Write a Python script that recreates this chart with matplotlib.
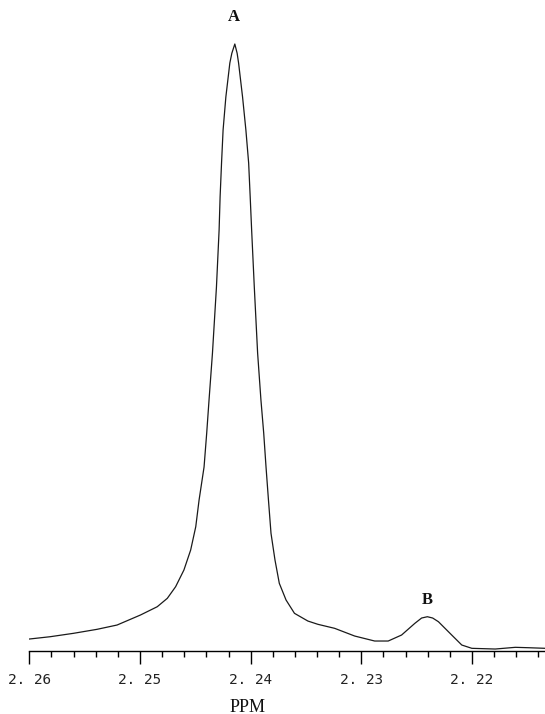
import matplotlib

matplotlib.use("Agg")
import matplotlib.pyplot as plt
from matplotlib.ticker import FixedLocator, FuncFormatter

# chemical shift (ppm) and intensity
ppm = [
    2.26000, 2.25812, 2.25601, 2.25388, 2.25207, 2.24996, 2.24844, 2.24753,
    2.24678, 2.24603, 2.24542, 2.24496, 2.24466, 2.24421, 2.24397, 2.24376,
    2.24345, 2.24309, 2.24285, 2.24276, 2.24263, 2.24249, 2.24224, 2.24188,
    2.24170, 2.24143, 2.24122, 2.24109, 2.24073, 2.24043, 2.24018, 2.24004,
    2.23991, 2.23967, 2.23937, 2.23907, 2.23882, 2.23861, 2.23839, 2.23816,
    2.23780, 2.23741, 2.23680, 2.23604, 2.23483, 2.23392, 2.23241, 2.23060,
    2.22879, 2.22757, 2.22636, 2.22516, 2.22455, 2.22403, 2.22355, 2.22303,
    2.22183, 2.22092, 2.22001, 2.21790, 2.21608, 2.21487, 2.21336,
]
intensity = [
    12, 14.3, 17.7, 21.7, 26, 36, 44.3, 52.7,
    64.3, 81, 101, 124.3, 151, 184, 218, 251,
    298, 364, 421, 454, 488, 521, 554, 588,
    597.7, 607, 597.7, 588, 554, 521, 488, 454,
    421, 364, 298, 251, 218, 184, 151, 117.7,
    91, 67.7, 51, 37.7, 30, 26.7, 22.7, 15,
    10, 10, 16, 27.7, 33, 34.3, 33, 29.3,
    16, 6, 2.7, 2, 3.7, 3.3, 2.7,
]

major_ticks = [2.26, 2.25, 2.24, 2.23, 2.22]
minor_ticks = [2.258, 2.256, 2.254, 2.252, 2.248, 2.246, 2.244, 2.242,
               2.238, 2.236, 2.234, 2.232, 2.228, 2.226, 2.224, 2.222,
               2.218, 2.216, 2.214]

peak_labels = ["A", "B"]
peak_ppm = [2.2415, 2.2240]
peak_label_y = [634, 51]

fig = plt.figure(figsize=(5.45, 7.14), dpi=100)
ax = fig.add_axes([0.0538, 0.0882, 0.9462, 0.9118])

ax.plot(ppm, intensity, color="#1a1a1a", lw=0.9)

ax.set_xlim(2.26, 2.2134)
ax.set_ylim(0, 651)

for side in ["top", "left", "right"]:
    ax.spines[side].set_visible(False)
ax.spines["bottom"].set_linewidth(1.0)
ax.set_yticks([])

ax.xaxis.set_major_locator(FixedLocator(major_ticks))
ax.xaxis.set_minor_locator(FixedLocator(minor_ticks))
ax.xaxis.set_major_formatter(FuncFormatter(lambda v, p: f"{v:.2f}".replace(".", ". ")))
ax.tick_params(axis="x", which="major", direction="out", length=9.5, width=1.0, pad=6.5,
               labelsize=10.4, labelcolor="#222222")
ax.tick_params(axis="x", which="minor", direction="out", length=4.5, width=1.0)
for lbl in ax.get_xticklabels():
    lbl.set_family("DejaVu Sans Mono")

for name, x, y in zip(peak_labels, peak_ppm, peak_label_y):
    ax.text(x, y, name, ha="center", va="center", fontsize=12, fontweight="bold",
            family="Liberation Serif", color="#111111")

fig.text(248 / 545, 1 - 707 / 714, "PPM", ha="center", va="center", fontsize=13,
         family="Liberation Serif", color="#111111")

fig.savefig("out.png", dpi=100)
